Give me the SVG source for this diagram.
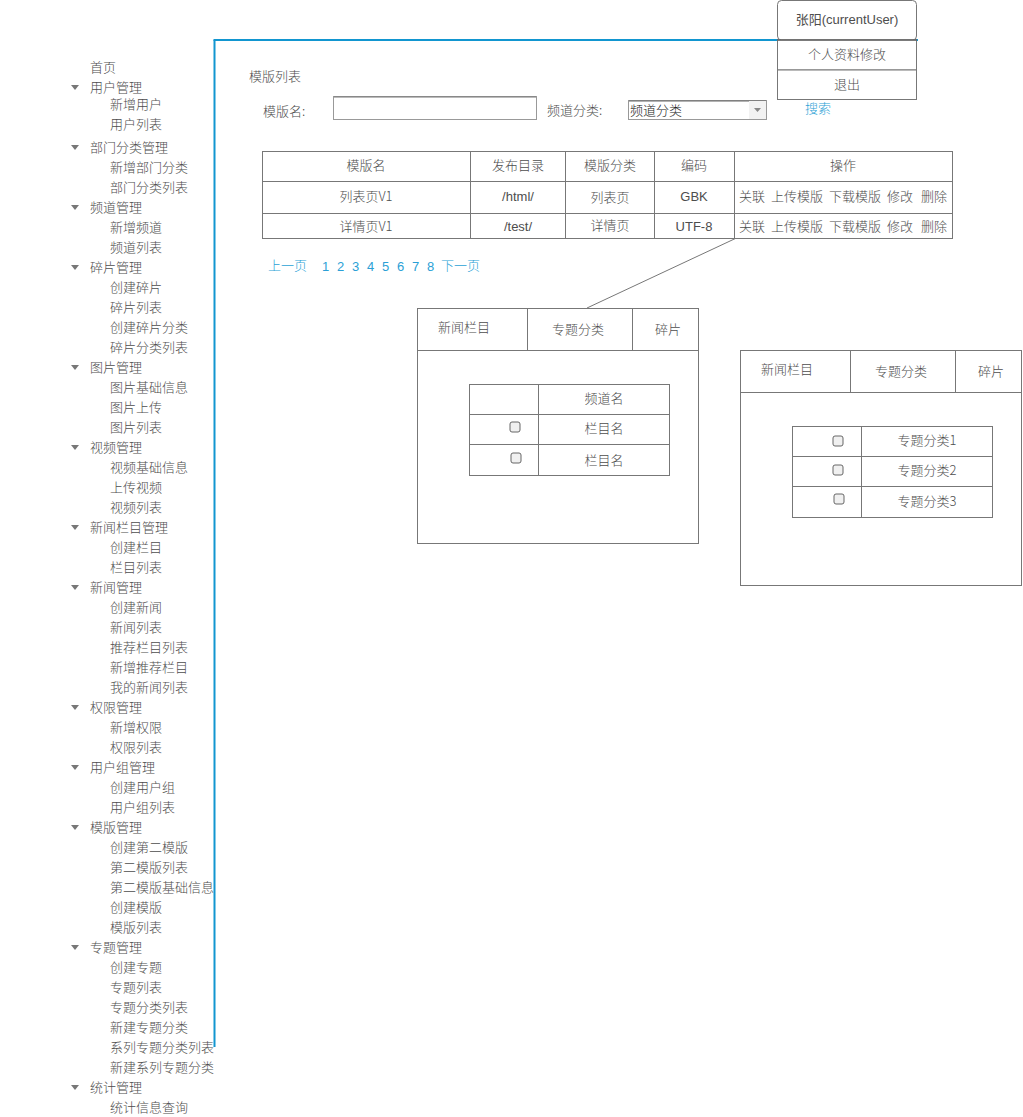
<svg xmlns="http://www.w3.org/2000/svg" width="1023" height="1117" viewBox="0 0 1023 1117">
<style>
text{font-family:"Noto Sans CJK SC","Liberation Sans",sans-serif;font-size:13px;fill:#4d4d4d;font-weight:300}
.c{text-anchor:middle}
.lk{fill:#2b9fd6}
.box{fill:#fff;stroke:#777;stroke-width:1}
.ln{stroke:#777;stroke-width:1;fill:none}
.tri{fill:#777}
.cb{fill:#f0f0f0;stroke:#666;stroke-width:1}
.en{font-family:"Liberation Sans","Noto Sans CJK SC",sans-serif;font-weight:400}
</style>
<rect width="1023" height="1117" fill="#fff"/>
<g id="connectors">
<line x1="214.5" y1="40" x2="214.5" y2="1047" stroke="#1296d0" stroke-width="2"/>
<line x1="213.5" y1="40" x2="918" y2="40" stroke="#1296d0" stroke-width="2"/>
<line x1="745" y1="234" x2="587" y2="308" stroke="#777" stroke-width="1"/>
</g>
<g id="menu">
<text x="90" y="72">首页</text>
<path class="tri" d="M71 85h8l-4 5z"/><text x="90" y="92">用户管理</text>
<text x="110" y="109">新增用户</text>
<text x="110" y="129">用户列表</text>
<path class="tri" d="M71 145h8l-4 5z"/><text x="90" y="152">部门分类管理</text>
<text x="110" y="172">新增部门分类</text>
<text x="110" y="192">部门分类列表</text>
<path class="tri" d="M71 205h8l-4 5z"/><text x="90" y="212">频道管理</text>
<text x="110" y="232">新增频道</text>
<text x="110" y="252">频道列表</text>
<path class="tri" d="M71 265h8l-4 5z"/><text x="90" y="272">碎片管理</text>
<text x="110" y="292">创建碎片</text>
<text x="110" y="312">碎片列表</text>
<text x="110" y="332">创建碎片分类</text>
<text x="110" y="352">碎片分类列表</text>
<path class="tri" d="M71 365h8l-4 5z"/><text x="90" y="372">图片管理</text>
<text x="110" y="392">图片基础信息</text>
<text x="110" y="412">图片上传</text>
<text x="110" y="432">图片列表</text>
<path class="tri" d="M71 445h8l-4 5z"/><text x="90" y="452">视频管理</text>
<text x="110" y="472">视频基础信息</text>
<text x="110" y="492">上传视频</text>
<text x="110" y="512">视频列表</text>
<path class="tri" d="M71 525h8l-4 5z"/><text x="90" y="532">新闻栏目管理</text>
<text x="110" y="552">创建栏目</text>
<text x="110" y="572">栏目列表</text>
<path class="tri" d="M71 585h8l-4 5z"/><text x="90" y="592">新闻管理</text>
<text x="110" y="612">创建新闻</text>
<text x="110" y="632">新闻列表</text>
<text x="110" y="652">推荐栏目列表</text>
<text x="110" y="672">新增推荐栏目</text>
<text x="110" y="692">我的新闻列表</text>
<path class="tri" d="M71 705h8l-4 5z"/><text x="90" y="712">权限管理</text>
<text x="110" y="732">新增权限</text>
<text x="110" y="752">权限列表</text>
<path class="tri" d="M71 765h8l-4 5z"/><text x="90" y="772">用户组管理</text>
<text x="110" y="792">创建用户组</text>
<text x="110" y="812">用户组列表</text>
<path class="tri" d="M71 825h8l-4 5z"/><text x="90" y="832">模版管理</text>
<text x="110" y="852">创建第二模版</text>
<text x="110" y="872">第二模版列表</text>
<text x="110" y="892">第二模版基础信息</text>
<text x="110" y="912">创建模版</text>
<text x="110" y="932">模版列表</text>
<path class="tri" d="M71 945h8l-4 5z"/><text x="90" y="952">专题管理</text>
<text x="110" y="972">创建专题</text>
<text x="110" y="992">专题列表</text>
<text x="110" y="1012">专题分类列表</text>
<text x="110" y="1032">新建专题分类</text>
<text x="110" y="1052">系列专题分类列表</text>
<text x="110" y="1072">新建系列专题分类</text>
<path class="tri" d="M71 1085h8l-4 5z"/><text x="90" y="1092">统计管理</text>
<text x="110" y="1112">统计信息查询</text>
</g>
<g id="user-menu">
<rect class="box" x="777.5" y="0.5" width="139" height="39.5" rx="4"/>
<text class="c en" x="847" y="24">张阳(currentUser)</text>
<rect class="box" x="777.5" y="40" width="139" height="30"/>
<text class="c" x="847" y="59">个人资料修改</text>
<rect class="box" x="777.5" y="70" width="139" height="29.5"/>
<text class="c" x="847" y="89">退出</text>
<line x1="777" y1="40" x2="917" y2="40" stroke="#666" stroke-width="1.5"/>
</g>
<g id="search">
<text x="249" y="81">模版列表</text>
<text x="263" y="116">模版名:</text>
<rect x="333.5" y="96.5" width="203" height="23" fill="#fff" stroke="#999"/>
<line x1="334" y1="97" x2="536" y2="97" stroke="#777"/>
<text x="547" y="115">频道分类:</text>
<rect x="628.5" y="100.5" width="138" height="19" fill="#fff" stroke="#999"/>
<line x1="629" y1="101" x2="766" y2="101" stroke="#666"/>
<rect x="749" y="101" width="17" height="18" fill="#f2f2f2"/>
<path d="M754 108h7l-3.5 4z" fill="#888"/>
<text x="630" y="115" style="fill:#222">频道分类</text>
<text class="lk" x="805" y="113">搜索</text>
</g>
<g id="template-table">
<rect class="box" x="262.5" y="151.5" width="690" height="87"/>
<line class="ln" x1="262" y1="181.5" x2="952" y2="181.5"/>
<line class="ln" x1="262" y1="213.5" x2="952" y2="213.5"/>
<line class="ln" x1="470.5" y1="151" x2="470.5" y2="238"/>
<line class="ln" x1="565.5" y1="151" x2="565.5" y2="238"/>
<line class="ln" x1="654.5" y1="151" x2="654.5" y2="238"/>
<line class="ln" x1="734.5" y1="151" x2="734.5" y2="238"/>
<text class="c" x="366" y="170">模版名</text>
<text class="c" x="518" y="170">发布目录</text>
<text class="c" x="610" y="170">模版分类</text>
<text class="c" x="694" y="170">编码</text>
<text class="c" x="843" y="170">操作</text>
<text class="c" x="366" y="201">列表页V1</text>
<text class="c en" x="518" y="201">/html/</text>
<text class="c" x="610" y="202">列表页</text>
<text class="c en" x="694" y="201">GBK</text>
<text x="739" y="201">关联</text><text x="771" y="201">上传模版</text><text x="829" y="201">下载模版</text><text x="887" y="201">修改</text><text x="921" y="201">删除</text>
<text class="c" x="366" y="231">详情页V1</text>
<text class="c en" x="518" y="231">/test/</text>
<text class="c" x="610" y="230">详情页</text>
<text class="c en" x="694" y="231">UTF-8</text>
<text x="739" y="231">关联</text><text x="771" y="231">上传模版</text><text x="829" y="231">下载模版</text><text x="887" y="231">修改</text><text x="921" y="231">删除</text>
</g>
<g id="pagination">
<text class="lk" x="268" y="270">上一页</text>
<text class="lk en" x="322" y="271">1</text>
<text class="lk en" x="337" y="271">2</text>
<text class="lk en" x="352" y="271">3</text>
<text class="lk en" x="367" y="271">4</text>
<text class="lk en" x="382" y="271">5</text>
<text class="lk en" x="397" y="271">6</text>
<text class="lk en" x="412" y="271">7</text>
<text class="lk en" x="427" y="271">8</text>
<text class="lk" x="441" y="270">下一页</text>
</g>
<g id="panel-channel">
<rect class="box" x="417.5" y="308.5" width="281" height="235"/>
<line class="ln" x1="417" y1="350.5" x2="699" y2="350.5"/>
<line class="ln" x1="527.5" y1="308" x2="527.5" y2="350"/>
<line class="ln" x1="632.5" y1="308" x2="632.5" y2="350"/>
<text x="438" y="332">新闻栏目</text>
<text class="c" x="578" y="334">专题分类</text>
<text class="c" x="668" y="334">碎片</text>
<rect class="box" x="469.5" y="384.5" width="200" height="91"/>
<line class="ln" x1="469" y1="414.5" x2="670" y2="414.5"/>
<line class="ln" x1="469" y1="444.5" x2="670" y2="444.5"/>
<line class="ln" x1="538.5" y1="384" x2="538.5" y2="476"/>
<text class="c" x="604" y="403">频道名</text>
<rect class="cb" x="510" y="422" width="10" height="10" rx="2"/>
<text class="c" x="604" y="433">栏目名</text>
<rect class="cb" x="511" y="453" width="10" height="10" rx="2"/>
<text class="c" x="604" y="465">栏目名</text>
</g>
<g id="panel-topic">
<rect class="box" x="740.5" y="350.5" width="281" height="235"/>
<line class="ln" x1="740" y1="392.5" x2="1022" y2="392.5"/>
<line class="ln" x1="850.5" y1="350" x2="850.5" y2="392"/>
<line class="ln" x1="955.5" y1="350" x2="955.5" y2="392"/>
<text x="761" y="374">新闻栏目</text>
<text class="c" x="901" y="376">专题分类</text>
<text class="c" x="991" y="376">碎片</text>
<rect class="box" x="792.5" y="426.5" width="200" height="91"/>
<line class="ln" x1="792" y1="456.5" x2="993" y2="456.5"/>
<line class="ln" x1="792" y1="486.5" x2="993" y2="486.5"/>
<line class="ln" x1="861.5" y1="426" x2="861.5" y2="518"/>
<rect class="cb" x="833" y="436" width="10" height="10" rx="2"/>
<text class="c" x="927" y="445">专题分类1</text>
<rect class="cb" x="833" y="465" width="10" height="10" rx="2"/>
<text class="c" x="927" y="475">专题分类2</text>
<rect class="cb" x="834" y="494" width="10" height="10" rx="2"/>
<text class="c" x="927" y="506">专题分类3</text>
</g>
</svg>
